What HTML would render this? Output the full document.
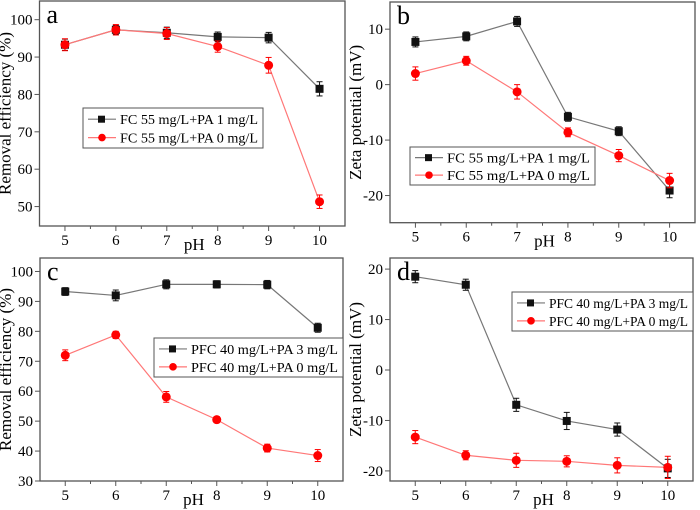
<!DOCTYPE html>
<html><head><meta charset="utf-8"><style>
body{margin:0;background:#fff;}
svg{display:block;font-family:"Liberation Serif",serif;}
</style></head><body>
<svg id="fig" width="700" height="510" viewBox="0 0 700 510" xmlns="http://www.w3.org/2000/svg"></svg>
<script>
const phValues = [5, 6, 7, 8, 9, 10];
const aBlack = [93.3, 97.3, 96.5, 95.4, 95.2, 81.5];
const aRed = [93.3, 97.3, 96.3, 92.8, 87.8, 51.3];
const aBlackErr = [1.5, 1.2, 1.5, 1.3, 1.4, 1.9];
const aRedErr = [1.6, 1.4, 1.6, 1.5, 2.1, 1.8];
const bBlack = [7.7, 8.7, 11.4, -5.8, -8.4, -19.1];
const bRed = [2.0, 4.3, -1.3, -8.6, -12.8, -17.3];
const bBlackErr = [0.9, 0.8, 0.9, 0.8, 0.8, 1.3];
const bRedErr = [1.2, 0.8, 1.3, 0.8, 1.1, 1.3];
const cBlack = [93.3, 92.0, 95.7, 95.7, 95.6, 81.2];
const cRed = [72.0, 78.8, 58.1, 50.5, 41.0, 38.5];
const cBlackErr = [1.3, 1.8, 1.5, 1.2, 1.4, 1.5];
const cRedErr = [1.8, 1.2, 1.8, 1.0, 1.3, 2.0];
const dBlack = [18.5, 16.9, -6.9, -10.1, -11.8, -19.5];
const dRed = [-13.3, -16.9, -17.9, -18.1, -18.9, -19.3];
const dBlackErr = [1.2, 1.1, 1.3, 1.7, 1.3, 1.8];
const dRedErr = [1.3, 0.9, 1.4, 1.1, 1.5, 2.2];
const aTicks = [50, 60, 70, 80, 90, 100];
const bTicks = [-20, -10, 0, 10];
const cTicks = [30, 40, 50, 60, 70, 80, 90, 100];
const dTicks = [-20, -10, 0, 10, 20];

const NS = "http://www.w3.org/2000/svg";
const svg = document.getElementById("fig");
function mk(tag, attrs, parent, text){
  const e = document.createElementNS(NS, tag);
  for (const k in attrs) e.setAttribute(k, attrs[k]);
  if (text !== undefined) e.textContent = text;
  (parent || svg).appendChild(e);
  return e;
}
function panel(p){
  const g = mk("g", {});
  
  
  const xs = v => p.L + (v - 4.5) / 6 * (p.R - p.L);
  const ys = v => p.B - (v - p.ymin) / (p.ymax - p.ymin) * (p.B - p.T);
  const fr = mk("rect", {x:p.L, y:p.T, width:p.R-p.L, height:p.B-p.T, fill:"none", stroke:"#555", "stroke-width":1.3}, g);
  
  
  phValues.forEach(v => {
    const x = xs(v);
    mk("line", {x1:x, x2:x, y1:p.B, y2:p.B+5, stroke:"#555"}, g);
    const t = mk("text", {x:x, y:p.B+19, "text-anchor":"middle", "font-size":15}, g, v);
    
    
    if (v < 10) { const xm = xs(v + 0.5); mk("line", {x1:xm, x2:xm, y1:p.B, y2:p.B+3, stroke:"#555"}, g); }
  });
  p.ticks.forEach(v => {
    const y = ys(v);
    mk("line", {x1:p.L-5, x2:p.L, y1:y, y2:y, stroke:"#555"}, g);
    const t = mk("text", {x:p.L-7, y:y+5, "text-anchor":"end", "font-size":15}, g, v);
    
    
  });
  const xl = mk("text", {x:(p.L+p.R)/2+2, y:p.B+24, "text-anchor":"middle", "font-size":17}, g, "pH");
  
  
  const cy = (p.T + p.B) / 2;
  const yl = mk("text", {x:p.L-29, y:cy, "text-anchor":"middle", "font-size":17, transform:`rotate(-90 ${p.L-29} ${cy})`}, g, p.ytitle);
  
  
  const lt = mk("text", {x:p.L+7, y:p.T+22, "font-size":26}, g, p.letter);
  
  
  const series = [
    {vals:p.black, err:p.blackErr, line:"#777", mark:"#111", sq:true, name:"series-black"},
    {vals:p.red, err:p.redErr, line:"#f77", mark:"#f00", sq:false, name:"series-red"}];
  series.forEach(s => {
    const pts = s.vals.map((v,i) => xs(phValues[i]) + "," + ys(v)).join(" ");
    const pl = mk("polyline", {points:pts, fill:"none", stroke:s.line, "stroke-width":1.2}, g);
    
    
    s.vals.forEach((v,i) => {
      const x = xs(phValues[i]), y = ys(v), e1 = ys(v + s.err[i]), e2 = ys(v - s.err[i]);
      mk("line", {x1:x, x2:x, y1:e1, y2:e2, stroke:s.mark, "stroke-width":1}, g);
      mk("line", {x1:x-3, x2:x+3, y1:e1, y2:e1, stroke:s.mark}, g);
      mk("line", {x1:x-3, x2:x+3, y1:e2, y2:e2, stroke:s.mark}, g);
      let m;
      if (s.sq) m = mk("rect", {x:x-4, y:y-4, width:8, height:8, fill:s.mark}, g);
      else m = mk("circle", {cx:x, cy:y, r:4.5, fill:s.mark}, g);
      
      
    });
  });
  const lg = mk("g", {}, g);
  
  
  const [lx, ly, lw, lh] = p.leg;
  mk("rect", {x:lx, y:ly, width:lw, height:lh, fill:"#fff", stroke:"#555"}, lg);
  [[p.lab1, "#777", "#111", true], [p.lab2, "#f77", "#f00", false]].forEach((e, k) => {
    const y = ly + lh*0.28 + k*lh*0.46;
    mk("line", {x1:lx+5, x2:lx+33, y1:y, y2:y, stroke:e[1], "stroke-width":1.2}, lg);
    if (e[3]) mk("rect", {x:lx+15, y:y-3.5, width:7, height:7, fill:e[2]}, lg);
    else mk("circle", {cx:lx+19, cy:y, r:3.8, fill:e[2]}, lg);
    const t = mk("text", {x:lx+37, y:y+5, "font-size":14, textLength:lw-42, lengthAdjust:"spacingAndGlyphs"}, lg, e[0]);
    
    
  });
}
panel({letter:"a", L:39.5, R:345, T:1, B:226, ymin:44.8, ymax:105, ticks:aTicks, black:aBlack, red:aRed, blackErr:aBlackErr, redErr:aRedErr, ytitle:"Removal efficiency (%)", leg:[83,108,180,40], lab1:"FC 55 mg/L+PA 1 mg/L", lab2:"FC 55 mg/L+PA 0 mg/L"});
panel({letter:"b", L:390, R:695, T:2, B:222.7, ymin:-24.9, ymax:14.9, ticks:bTicks, black:bBlack, red:bRed, blackErr:bBlackErr, redErr:bRedErr, ytitle:"Zeta potential (mV)", leg:[410,147,185,38], lab1:"FC 55 mg/L+PA 1 mg/L", lab2:"FC 55 mg/L+PA 0 mg/L"});
panel({letter:"c", L:40, R:343, T:258, B:481, ymin:30, ymax:104.5, ticks:cTicks, black:cBlack, red:cRed, blackErr:cBlackErr, redErr:cRedErr, ytitle:"Removal efficiency (%)", leg:[154,338,189,39], lab1:"PFC 40 mg/L+PA 3 mg/L", lab2:"PFC 40 mg/L+PA 0 mg/L"});
panel({letter:"d", L:390, R:693, T:258, B:481, ymin:-22, ymax:22.2, ticks:dTicks, black:dBlack, red:dRed, blackErr:dBlackErr, redErr:dRedErr, ytitle:"Zeta potential (mV)", leg:[512,292,181,39], lab1:"PFC 40 mg/L+PA 3 mg/L", lab2:"PFC 40 mg/L+PA 0 mg/L"});
</script>
</body></html>
